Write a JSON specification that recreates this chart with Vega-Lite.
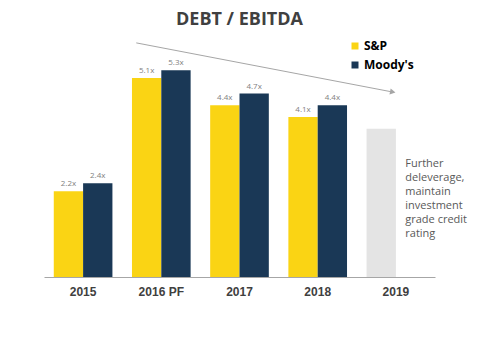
{
  "$schema": "https://vega.github.io/schema/vega-lite/v6.json",
  "autosize": "none",
  "width": 391,
  "height": 247,
  "padding": {"left": 44, "top": 30, "right": 45, "bottom": 78},
  "background": "white",
  "title": {
    "text": "DEBT / EBITDA",
    "font": "Open Sans",
    "fontSize": 18,
    "fontWeight": "bold",
    "color": "#404040",
    "anchor": "middle",
    "offset": 1
  },
  "config": {"view": {"stroke": null}},
  "datasets": {
    "bars": [
      {"year": "2015", "series": "S&P", "value": 2.2, "label": "2.2x", "status": "actual"},
      {"year": "2015", "series": "Moody's", "value": 2.4, "label": "2.4x", "status": "actual"},
      {"year": "2016 PF", "series": "S&P", "value": 5.1, "label": "5.1x", "status": "actual"},
      {"year": "2016 PF", "series": "Moody's", "value": 5.3, "label": "5.3x", "status": "actual"},
      {"year": "2017", "series": "S&P", "value": 4.4, "label": "4.4x", "status": "actual"},
      {"year": "2017", "series": "Moody's", "value": 4.7, "label": "4.7x", "status": "actual"},
      {"year": "2018", "series": "S&P", "value": 4.1, "label": "4.1x", "status": "actual"},
      {"year": "2018", "series": "Moody's", "value": 4.4, "label": "4.4x", "status": "actual"},
      {"year": "2019", "series": "S&P", "value": 3.8, "label": "", "status": "target"}
    ],
    "arrow": [
      {"px": 1.18, "py": 6.0, "end": false},
      {"px": 4.46, "py": 4.74, "end": true}
    ],
    "note": [
      {"px": 4.62, "py": 2.82, "text": ["Further", "deleverage,", "maintain", "investment", "grade credit", "rating"]}
    ]
  },
  "resolve": {"scale": {"x": "independent"}},
  "layer": [
    {
      "data": {"name": "bars"},
      "layer": [
        {
          "mark": {"type": "bar"},
          "encoding": {
            "x": {
              "field": "year", "type": "nominal", "sort": null,
              "scale": {"paddingInner": 0.25, "paddingOuter": 0.125},
              "axis": {
                "title": null, "labelAngle": 0, "ticks": false,
                "domainColor": "#A6A6A6", "domainWidth": 1,
                "labelFont": "Liberation Sans", "labelFontSize": 12, "labelFontWeight": "bold",
                "labelColor": "#404040", "labelPadding": 9
              }
            },
            "xOffset": {"field": "series", "type": "nominal", "sort": ["S&P", "Moody's"], "scale": {"paddingInner": 0, "paddingOuter": 0}},
            "y": {"field": "value", "type": "quantitative", "scale": {"domain": [0, 6.33], "nice": false}, "axis": null},
            "color": {
              "field": "series", "type": "nominal",
              "scale": {"domain": ["S&P", "Moody's"], "range": ["#FAD414", "#1A3856"]},
              "legend": {
                "title": null, "orient": "none", "legendX": 305, "legendY": 10,
                "symbolType": "square", "symbolSize": 49, "symbolStrokeWidth": 0,
                "labelFont": "Open Sans", "labelFontSize": 12, "labelFontWeight": "bold",
                "labelColor": "#000000", "labelOffset": 3, "rowPadding": 7
              },
              "condition": {"test": "datum.status === 'target'", "value": "#E4E4E4"}
            }
          }
        },
        {
          "mark": {"type": "text", "baseline": "bottom", "dy": -3, "font": "Open Sans", "fontSize": 8, "color": "#7F7F7F"},
          "encoding": {
            "x": {"field": "year", "type": "nominal", "sort": null},
            "xOffset": {"field": "series", "type": "nominal", "sort": ["S&P", "Moody's"]},
            "y": {"field": "value", "type": "quantitative"},
            "text": {"field": "label"}
          }
        }
      ]
    },
    {
      "data": {"name": "arrow"},
      "layer": [
        {
          "mark": {"type": "line", "color": "#A6A6A6", "strokeWidth": 1},
          "encoding": {
            "x": {"field": "px", "type": "quantitative", "scale": {"domain": [0, 5], "nice": false}, "axis": null},
            "y": {"field": "py", "type": "quantitative"}
          }
        },
        {
          "transform": [{"filter": "datum.end"}],
          "mark": {"type": "point", "shape": "triangle-right", "filled": true, "color": "#A6A6A6", "size": 40, "angle": 11, "opacity": 1},
          "encoding": {
            "x": {"field": "px", "type": "quantitative", "scale": {"domain": [0, 5], "nice": false}, "axis": null},
            "y": {"field": "py", "type": "quantitative"}
          }
        }
      ]
    },
    {
      "data": {"name": "note"},
      "mark": {"type": "text", "align": "left", "baseline": "alphabetic", "font": "Open Sans", "fontSize": 11, "lineHeight": 14, "color": "#595959"},
      "encoding": {
        "x": {"field": "px", "type": "quantitative", "scale": {"domain": [0, 5], "nice": false}, "axis": null},
        "y": {"field": "py", "type": "quantitative"},
        "text": {"field": "text"}
      }
    }
  ]
}
